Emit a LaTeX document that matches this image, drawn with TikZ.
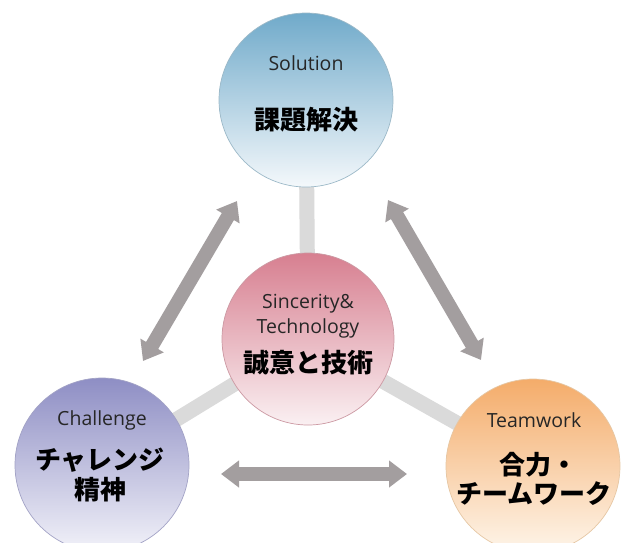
\documentclass[tikz,border=0pt]{standalone}
\usepackage{fontspec}
\setmainfont{Open Sans}
\newfontfamily\jp{Noto Sans CJK JP}
\usetikzlibrary{arrows.meta}
\pgfdeclarelayer{bg}
\pgfsetlayers{bg,main}
\definecolor{linkgray}{HTML}{DADADA}
\definecolor{arrowgray}{HTML}{A39E9F}
\definecolor{blueT}{HTML}{70AACA}
\definecolor{blueB}{HTML}{F4F8FB}
\definecolor{blueD}{HTML}{9CB9C8}
\definecolor{pinkT}{HTML}{D77F90}
\definecolor{pinkB}{HTML}{FAF0F2}
\definecolor{pinkD}{HTML}{CC99A3}
\definecolor{purT}{HTML}{8E8EC4}
\definecolor{purB}{HTML}{F2F2F9}
\definecolor{purD}{HTML}{A3A3C6}
\definecolor{orT}{HTML}{F4AC6A}
\definecolor{orB}{HTML}{FEF5EA}
\definecolor{orD}{HTML}{E6C7A4}
\begin{document}
\begin{tikzpicture}[x=1pt,y=-1pt,
  ball/.style={circle, minimum size=174pt, inner sep=0pt, line width=0.7pt},
  link/.style={draw=linkgray, line width=15pt},
  bigarrow/.style={draw=arrowgray, line width=14pt,
     {Triangle[width=26pt,length=18pt]}-{Triangle[width=26pt,length=18pt]}},
  en/.style={font=\fontsize{19.5}{23}\selectfont, text=black!85},
  ja/.style={font=\jp\bfseries\fontsize{26}{30}\selectfont, text=black}]
\useasboundingbox (0,0) rectangle (627,542);

\node[ball, top color=blueT, bottom color=blueB, draw=blueD] (sol) at (306,100) {};
\node[ball, minimum size=172pt, top color=pinkT, bottom color=pinkB, draw=pinkD] (ctr) at (308,339) {};
\node[ball, top color=purT, bottom color=purB, draw=purD] (cha) at (102,465) {};
\node[ball, top color=orT, bottom color=orB, draw=orD] (tea) at (533,466) {};

\begin{pgfonlayer}{bg}
\fill[white] (0,0) rectangle (627,542);
\draw[link] (ctr.center) -- (sol.center);
\draw[link] (ctr.center) -- (cha.center);
\draw[link] (ctr.center) -- (tea.center);
\end{pgfonlayer}

\coordinate (l1) at (237,201);
\coordinate (l2) at (143,361);
\coordinate (r1) at (388,200);
\coordinate (r2) at (481,360);
\coordinate (b1) at (221,474);
\coordinate (b2) at (407,474);
\draw[bigarrow] (l1) -- (l2);
\draw[bigarrow] (r1) -- (r2);
\draw[bigarrow] (b1) -- (b2);

\node[en] (solEn) at (306,63) {Solution};
\node[ja] (solJa) at (306,120) {課題解決};
\node[en] (ctrEn1) at (308,304) {Sincerity\&};
\node[en] (ctrEn2) at (308,328) {Technology};
\node[ja] (ctrJa) at (308,363) {誠意と技術};
\node[en] (chEn) at (102,420) {Challenge};
\node[ja] (chJa1) at (100,460) {チャレンジ};
\node[ja] (chJa2) at (100,490) {精神};
\node[en] (twEn) at (534,420) {Teamwork};
\node[ja] (twJa1) at (538,465) {合力・};
\node[ja] (twJa2) at (534,494) {チームワーク};
\end{tikzpicture}
\end{document}
